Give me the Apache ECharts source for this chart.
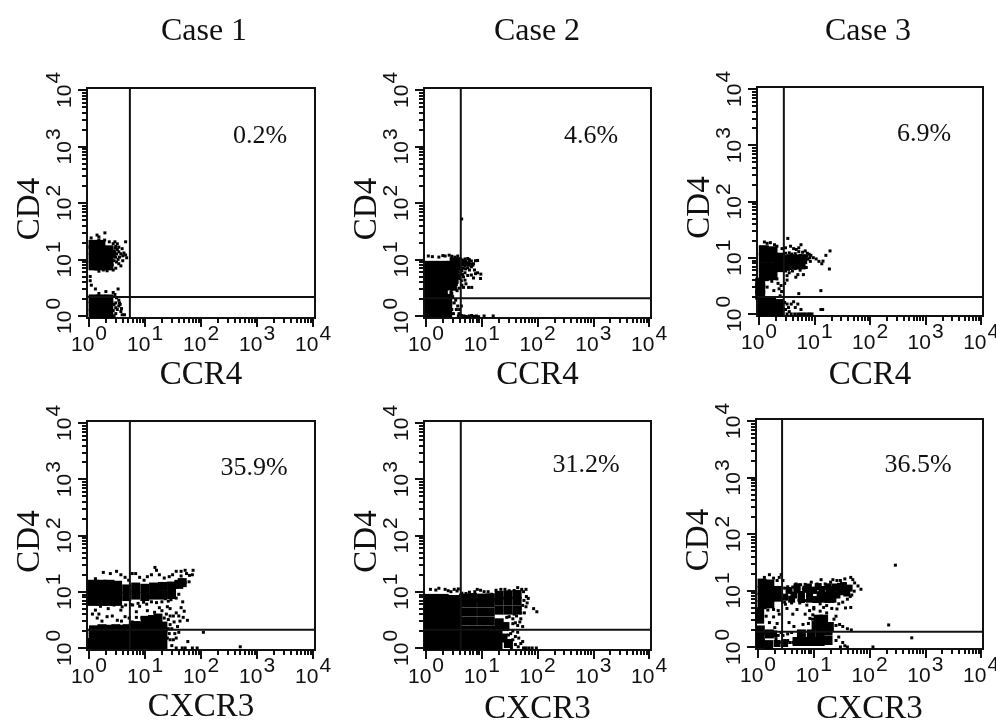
<!DOCTYPE html>
<html><head><meta charset="utf-8">
<style>html,body{margin:0;padding:0;background:#fff}#c{width:996px;height:721px}</style>
<script src="https://cdn.jsdelivr.net/npm/echarts@6/dist/echarts.min.js"></script>
</head><body><div id="c"></div>
<script>
const caseTitles = ['Case 1','Case 2','Case 3'];
const majorTicks = [1,10,100,1000,10000];
const minorTicks = [2,3,4,5,6,7,8,9,20,30,40,50,60,70,80,90,200,300,400,500,600,700,800,900,2000,3000,4000,5000,6000,7000,8000,9000];
const axisMin = 0.92, axisMax = 10800;
const markerNames = ['CCR4','CCR4','CCR4','CXCR3','CXCR3','CXCR3'];
const percentLabels = ['0.2%','4.6%','6.9%','35.9%','31.2%','36.5%'];
const gateX = [5.36,4.2,2.8,5.36,4.2,2.7];
const gateY = [2.17,2.05,2.0,2.1,2.1,1.85];

const c1CcrCore = [[1.18,7.7],[1.63,7.7],[2.26,7.7],[1.18,10.7],[1.63,10.7],[2.26,10.7],[1.18,14.8],[1.63,14.8],[2.26,14.8],[1.18,18.5],[1.63,18.5],[2.5,12.5],[1.18,1.09],[1.63,1.09],[2.26,1.09],[1.18,1.5],[1.63,1.5],[2.26,1.5],[1.18,2.0],[1.63,2.0],[2.26,2.0]];
const c1CcrDots = [[1.09,24],[1.5,25],[1.39,27],[1.92,29.5],[2.9,20.5],[4.5,20.5],[3,17],[3.2,15],[3.4,13.6],[3.7,12.6],[3.5,11],[4,11.6],[4.2,13],[4.5,12],[4.7,10.7],[3.1,9],[3.4,8.4],[3.7,7.7],[3,7],[2.7,6.5],[2.4,7],[2.1,6.3],[1.8,6.5],[1.5,6.2],[1.3,6.8],[3.2,18.9],[2.7,19],[2.3,20.5],[1.9,22],[1.5,22],[2.9,16],[3.9,15.5],[3.4,16.5],[4,9.5],[1.05,5],[1.05,4.2],[1.1,3.5],[3,11],[3.1,12.5],[2.8,9.5],[2.6,8],[2.9,13.2],[3.3,10],[1.3,3],[2.7,2.6],[3.3,3],[2,2.7],[1.5,2.5],[3,1.1],[3.2,1.3],[3.4,1.5],[3,1.7],[3.4,1.9],[3.7,1.2],[3.9,1.05],[3.1,2.1],[3.5,1.7],[3,1.4],[3.6,1.6],[3.8,1.35],[2.9,2.4],[4.3,1.05],[2.8,1],[2.8,1.6],[2.7,1.25]];

const c2CcrCore = [[1.22,1.22],[1.22,1.92],[1.22,3],[1.22,4.7],[1.22,7.4],[1.92,1.22],[1.92,1.92],[1.92,3],[1.92,4.7],[1.92,7.4],[2.3,1.22],[2.3,1.92],[2.8,3.6],[3,4.7],[3,7.4],[3.4,8.6]];
const c2CcrDots = [[4,10],[4.4,9.8],[5,10.2],[5.6,10.4],[6,9.9],[6.5,9.4],[7.1,8.4],[7.7,9.5],[8.4,9.6],[4.3,8.8],[4.7,9],[5.6,8.7],[6.3,8.3],[5,7.7],[5.6,7.1],[6.5,7.4],[4.3,7],[7.4,6.5],[6,6.5],[7.7,5.6],[8.4,5.8],[9.6,5.5],[5,5.8],[5.6,5.2],[4.5,5.4],[4.7,4.9],[6.5,5.3],[7.1,4.7],[9.5,4.6],[4,4.6],[4.3,4.2],[5,4.3],[5.2,3.7],[4.4,3.5],[3.9,3.1],[4.7,3.2],[5.8,3.2],[6.6,3.2],[3.6,2.8],[3.8,9.2],[4.1,8.2],[4.6,8],[4.9,8.6],[5.2,9.2],[4,7.5],[4.4,6.3],[3.8,6],[3.9,5.2],[3.4,4.3],[3.5,3.6],[3.3,3],[1.3,11.2],[1.7,11],[2.2,11.5],[2.6,11.9],[2.9,11.4],[3.3,11],[3.7,11.5],[2,11.7],[1.1,11.5],[3.4,1.9],[3.7,1.5],[3.2,1.7],[3.5,1.3],[4,1.3],[4.3,1.5],[3.9,1.1],[3.8,1],[4.3,1.02],[4.8,1],[5.3,0.98],[6,1],[6.6,1.02],[7.2,0.98],[8,1],[8.8,0.97],[11,1],[16,1],[4.35,52],[2.9,1.3],[2.8,1.7],[3,2.2],[2.9,2.5],[3.1,1.1],[3.8,8.6],[4.2,9.4],[4.6,9.5],[5.4,8.2],[5.9,8.9],[3.9,6.7],[4.6,7],[5.1,6.8],[5.8,7.9],[6.9,7.9],[3.6,5.5],[3.5,6.5],[4.2,5.6],[3.6,4.8],[2.8,2.6],[2.9,2.9]];

const c3CcrCore = [[1.22,4.7],[1.22,6.8],[1.22,10],[1.22,13.6],[1.75,4.9],[1.75,6.8],[1.75,10],[1.75,13],[2.4,6.8],[2.4,10],[2.4,7.4],[1.18,1.1],[1.18,1.6],[1.65,1.1],[1.65,1.6],[2.25,1.1],[2.25,1.5],[1.05,2.2],[1.05,2.8],[1.05,3.6],[3,9],[3.4,9],[3.9,9.4],[4.5,9],[5.2,9],[6,9.4],[3.3,7.4],[4,7.6],[4.8,7.8],[5.6,7.6]];
const c3CcrDots = [[1.25,19],[1.4,18],[1.6,18.5],[1.9,17],[2.1,16],[2.6,14.5],[3,15],[3.3,22],[3.7,16],[4.2,14.5],[4.7,14],[5.2,15],[5.7,17],[5.2,12.8],[6.1,12.5],[6.8,13.2],[7.4,12],[8,11.5],[8.6,11],[9.5,10],[10.7,9.5],[12,8.6],[14.2,8.7],[16,11],[19,13.2],[18.5,6.3],[13.5,7.8],[7.6,9.4],[6.7,8.5],[8.4,8.6],[6.4,7],[7.1,6.7],[3,5.8],[3.5,5.4],[4,5.8],[5.5,6],[6.3,5],[5,5],[3.2,4.8],[4.6,4.5],[3.2,4],[2.9,3.5],[13,2.6],[5.2,2.3],[1.4,3],[1.7,3.8],[1.85,2.6],[2.2,3.5],[2.3,2.8],[2.1,4.2],[1.55,4.2],[2.4,2.1],[2.5,3.2],[2.55,2.5],[2.9,1.6],[3.2,1.5],[3.4,1.3],[3.8,1.5],[4.2,1.65],[4.5,1.3],[5,1.5],[5.7,1.2],[3,1.2],[3.5,1.1],[3.2,1],[3.8,1],[4.4,1],[5,1],[5.6,1],[6.2,1],[6.8,1],[7.6,1],[8.2,1],[9,1],[13,1.2],[14,1.2],[3,12],[3.5,12.2],[3.9,11.6],[4.5,11.8],[5.6,11],[6.4,10.7],[7.2,10.6],[8.2,10],[2.8,6],[3.4,6.2],[4.5,6.4]];

const c1CxcCore = [[1.18,7],[1.63,7],[2.26,7],[3.1,7],[1.18,9.5],[1.63,9.5],[2.26,9.5],[3.1,9.5],[1.18,13],[1.63,13],[2.26,13],[3.1,12.5],[1.18,1.2],[1.8,1.2],[2.7,1.2],[4,1.2],[6,1.2],[9,1.2],[13.6,1.2],[20,1.2],[6,1.75],[9,1.75],[13.6,1.75],[20,1.75],[9,2.35],[13.6,2.4],[20,2.35]];
const c1CxcBand = [[1.18,1.75],[1.6,1.8],[2.1,1.75],[2.7,1.8],[3.5,1.75],[4.5,1.8],[1.2,2.1],[1.7,2.2],[2.4,2.15],[3,2.2],[3.8,2.15],[4.8,2.2],[6.2,2.4],[6.8,2.5],[13.6,3.2],[17,3.4],[10,3.1],[4.7,8.2],[6.8,8.7],[9.9,8.2],[14.2,8.7],[20.5,8.7],[29.7,8.9],[4.7,11.2],[6.8,12.1],[9.9,11.5],[14.2,12.1],[20.5,12.4],[29.7,12.6],[40,13.5],[46,14.5]];
const c1CxcDots = [[1.3,17],[1.8,22],[2.4,21],[3.1,23],[3.7,20],[4.4,18],[5.1,16],[5.9,21],[6.8,21],[8,18],[9.6,16],[11,18.5],[13,20],[15,27],[18,20],[16,24],[22,17.5],[27,18.5],[31,20],[36,23],[44,23],[52,24],[44,19],[55,21],[62,19.5],[70,20],[72,24],[47,16],[52,14.5],[61,15],[38,12],[30,11],[27,9],[19,8.7],[15,8],[12,8],[23,7.5],[33,8.3],[40,9],[13,6.6],[9.4,6.5],[8,5.5],[6,5.8],[4.5,5.8],[3.7,4.7],[2.8,5.8],[2.2,5],[1.6,5.5],[1.3,4.7],[1.15,4],[1.4,3.4],[1.7,3],[2.6,3.7],[3.2,3.1],[4.4,3.6],[5.2,3.4],[7,4.4],[11,4.6],[14.8,4.3],[20,4.6],[18,5.2],[25,5.4],[28,5],[44,5.2],[47,6.6],[50,4.5],[36,4.2],[32,3.7],[40,3.7],[48,3.5],[57,3.1],[26,3.2],[33,2.9],[38,2.4],[42,3],[30,2.2],[34,1.8],[32,1.4],[36,1.5],[28,1.4],[40,1.9],[30,1.1],[36,1],[46,1],[58,1.3],[70,1],[85,1],[52,1],[110,1.9],[500,1.05],[5.6,5.9],[7.5,6.2],[10.7,6],[16,6.4],[20,6.6],[26,6.8],[29,7.2],[36,7.7],[3.9,5.4],[1.5,4],[2.1,3.6],[3.8,3],[5.9,2.9],[7,3.5],[8.8,3.4],[28,3.7],[24,4],[22,3.4],[28,2.6],[26,2.2],[27,1.8],[25,1.5]];

const c2CxcCore = [[1.22,1.22],[1.22,1.92],[1.22,3],[1.22,4.7],[1.22,7],[1.95,1.22],[1.95,1.92],[1.95,3],[1.95,4.7],[1.95,7],[3.2,1.22],[3.2,1.92],[3.2,2.7],[3.2,4.3],[3.2,6.7],[5.2,1.22],[5.2,1.9],[8.4,1.22],[8.4,1.9],[13.6,1.22],[13.6,1.9],[18,1.22],[18,1.9]];
const c2CxcBand = [[4.7,3],[6.8,3],[9.9,3],[14.2,3],[4.7,4.35],[6.8,4.35],[9.9,4.35],[14.2,4.35],[4.7,6.3],[6.8,6.3],[9.9,6.3],[14.2,6.3],[4.7,7.7],[6.8,7.9],[9.9,7.7],[14.2,7.8],[20.5,4.7],[29.7,4.7],[43,4.7],[20.5,6.8],[29.7,6.8],[43,6.8],[20.5,8.6],[29.7,8.8],[43,8.9],[20.5,2.8],[26,2.4],[24,1.5],[30,1.2]];
const c2CxcDots = [[1.2,11],[1.5,10.7],[1.7,11.5],[2.2,11],[2.5,10.4],[2.8,10],[3.2,11],[3.6,10.3],[3.8,11.2],[4.4,9.4],[5.2,9.3],[6,9.8],[7.5,10],[8.3,11],[9.5,10.6],[11,10],[13,10],[15,9],[18,10.6],[22,11],[26,11],[31,10.4],[38,10.5],[44,11.8],[52,11],[62,11],[47,9.2],[56,10],[63,8.2],[68,7.6],[57,7],[65,6.3],[54,5.7],[62,5.4],[85,5],[97,4.4],[49,5],[45,4.8],[40,5],[58,4.2],[50,4.2],[42,3.7],[50,3.3],[48,2.9],[40,2.8],[36,2.7],[44,2.5],[54,2.4],[36,2],[33,1.8],[44,1.9],[40,1.6],[46,1.5],[36,1.4],[33,1.25],[40,1.15],[45,1.05],[50,1.2],[54,1.3],[34,1],[28,1.3],[30,1.7],[56,1],[62,1],[70,1],[80,1],[95,1],[36,3.3],[31,3.6],[38,4],[28,3.5]];

const c3CxcCore = [[1.18,5.6],[1.18,7.6],[1.18,10],[1.18,13.5],[1.63,5.8],[1.63,7.6],[1.63,10],[1.63,13],[2.2,7.6],[2.2,10],[1.1,1.15],[1.1,1.5],[1.1,2],[1.6,1.7],[1.55,1.1],[1.07,3.1],[1.07,4.2],[5,1.25],[7,1.25],[9.5,1.25],[13,1.25],[18,1.3],[6,1.7],[9,1.7],[13,1.75],[18,1.9],[11,2.4],[14,2.5],[19,2.3],[12,3.1],[15,3.1]];
const c3CxcBand = [[3,7.6],[4.4,8.3],[6,8.5],[8.4,8.8],[13,8.4],[16,8.2],[19,8.6],[22,8.8],[26,8.3],[30,9.5],[36,10],[39,9],[43,11],[34,12.2],[27,11],[19,10.3],[3.6,10],[5,10.2],[7.2,10.5],[10,10],[14,10.4],[4,7],[6,6.9],[8.4,7],[11,6.9],[14,7],[18,6.9],[22,7],[5,11.6],[8,11.5],[12,11.7],[18,11.6],[24,11.5],[30,11.8],[2.2,1.15],[3,1.15],[1.9,1.7]];
const c3CxcDots = [[1.3,17],[1.6,19],[1.9,16.5],[2.2,15],[2.4,17],[2.6,19],[2.8,15],[3,11],[3.4,11.6],[3.7,10],[4.2,11.5],[4.8,13],[5.2,11],[5.8,12.6],[6.5,10.6],[7,12.8],[8,12],[9,14],[10,11],[11.5,13],[13.5,15.5],[16,13],[20,14],[22,15.5],[26,15],[30,15],[36,16],[46,17],[50,15.5],[54,13.6],[62,12],[70,10.5],[53,9.7],[48,8.3],[45,7.8],[40,7],[33,6.2],[28,5.8],[26,4.7],[37,4.9],[46,5],[25,3.5],[21,4.8],[17,5.4],[13,5.8],[10,5],[7.5,5.5],[5.6,6],[4,6],[3.1,5.7],[3.3,4.8],[4.2,3.8],[5,4.6],[7,3.8],[8.4,4.4],[10,4.7],[13,4.3],[15,5],[17,4],[8.5,3.2],[9.6,3.7],[3.6,2.7],[4.4,2.3],[6.4,2.5],[8,2.6],[9.5,3.1],[23,3.1],[25,2.4],[29,2.5],[33,2.3],[40,2.1],[47,2],[1.4,3.5],[1.6,2.7],[1.9,3.4],[2.2,2.6],[2.4,3.8],[2.3,4.4],[1.9,4.6],[1.5,4.5],[2,2.2],[2.3,1.6],[2.6,1.8],[3,1.3],[3.4,1.7],[3.7,1.2],[4,1.8],[3.1,1.1],[2.4,1.2],[25,1.3],[28,1.5],[33,1.2],[36,1.05],[30,1],[40,1],[115,1],[290,28],[220,2.45],[570,1.45],[3,6.2],[4.2,6.6],[5.4,6.7],[7,6.6],[9,6.8],[11,6.5],[14,6.7],[18,6.9],[22,6.4],[3.4,1.3],[2.1,1.4],[2.8,1.6],[4.2,1.2]];

const panelCores = [c1CcrCore,c2CcrCore,c3CcrCore,c1CxcCore,c2CxcCore,c3CxcCore];
const panelBands = [[],[],[],c1CxcBand,c2CxcBand,c3CxcBand];
const panelDots = [c1CcrDots,c2CcrDots,c3CcrDots,c1CxcDots,c2CxcDots,c3CxcDots];

// layout only: plot frames in page pixels and the block size of each dense core
const frames = [
 {l:87,r:315,t:88,b:318,core:9,band:7,px:260,py:136,gap:57},
 {l:424,r:651,t:88,b:318,core:12,band:6,px:591,py:136,gap:57},
 {l:757,r:983,t:87,b:316,core:10,band:7,px:924,py:134,gap:59},
 {l:87,r:315,t:421,b:650,core:11,band:9,px:254,py:468,gap:57},
 {l:424,r:651,t:421,b:650,core:13,band:9,px:586,py:465,gap:59},
 {l:756,r:983,t:419,b:649,core:9,band:7,px:918,py:465,gap:60}
];

const sup = {fontFamily:'Liberation Sans',fontSize:21,color:'#111',lineHeight:22};
const richX = {b:{...sup},s:{...sup,padding:[0,0,22,1]}};
function lab(v){const e=Math.round(Math.log10(v));return '{b|10}{s|'+e+'}';}
function ax(kind,i,f,major){
  const isX = kind==='x';
  const o = {type:'log',logBase:10,gridIndex:i,min:axisMin,max:axisMax,position:isX?'bottom':'left',
    splitLine:{show:false},minorTick:{show:false},minorSplitLine:{show:false},
    axisLine:{show:true,onZero:false,lineStyle:{color:'#111',width:2}},
    axisPointer:{show:false},
    axisTick:{show:true,inside:false,length:major?9:5,lineStyle:{color:'#111',width:2},customValues:major?majorTicks:minorTicks},
    axisLabel:{show:major,customValues:majorTicks,hideOverlap:false,margin:isX?16:11,rotate:isX?0:90,
      formatter:lab,rich:richX}};
  if(major){
    o.name = isX?markerNames[i]:'CD4';
    o.nameLocation='middle';
    o.nameMoveOverlap=false;
    o.nameGap = isX?f.gap:57;
    o.nameTextStyle={fontFamily:'Liberation Serif',fontSize:33,color:'#111',verticalAlign:'middle'};
    if(!isX) o.nameTextStyle.padding=[0,12,0,0];
  }
  return o;
}
const grid=[],xAxis=[],yAxis=[],series=[],title=[];
frames.forEach((f,i)=>{
  grid.push({left:f.l,top:f.t,width:f.r-f.l,height:f.b-f.t,show:true,borderColor:'#111',borderWidth:2,backgroundColor:'#fff',outerBoundsMode:'none'});
  xAxis.push(ax('x',i,f,true),ax('x',i,f,false));
  yAxis.push(ax('y',i,f,true),ax('y',i,f,false));
  const a=i*2;
  const base={type:'scatter',xAxisIndex:a,yAxisIndex:a,symbol:'rect',silent:true,itemStyle:{color:'#000',opacity:1},animation:false,large:false};
  series.push({...base,name:'core'+i,symbolSize:f.core,data:panelCores[i]});
  series.push({...base,name:'band'+i,symbolSize:f.band,data:panelBands[i]});
  series.push({...base,name:'dots'+i,symbolSize:3,data:panelDots[i]});
  const line={type:'line',xAxisIndex:a,yAxisIndex:a,symbol:'none',silent:true,animation:false,lineStyle:{color:'#111',width:2},z:5};
  series.push({...line,name:'gateV'+i,data:[[gateX[i],axisMin],[gateX[i],axisMax]]});
  series.push({...line,name:'gateH'+i,data:[[axisMin,gateY[i]],[axisMax,gateY[i]]]});
  title.push({text:percentLabels[i],left:f.px,top:f.py,padding:0,textAlign:'center',textVerticalAlign:'middle',
    textStyle:{fontFamily:'Liberation Serif',fontSize:26,fontWeight:'normal',color:'#111'}});
});
[204,537,868].forEach((x,k)=>title.push({text:caseTitles[k],left:x,top:32,padding:0,textAlign:'center',textVerticalAlign:'middle',
  textStyle:{fontFamily:'Liberation Serif',fontSize:32,fontWeight:'normal',color:'#111'}}));
const chart=echarts.init(document.getElementById('c'),null,{renderer:'canvas'});
chart.setOption({backgroundColor:'#fff',animation:false,tooltip:{show:false},legend:{show:false},grid,xAxis,yAxis,series,title});
</script></body></html>
